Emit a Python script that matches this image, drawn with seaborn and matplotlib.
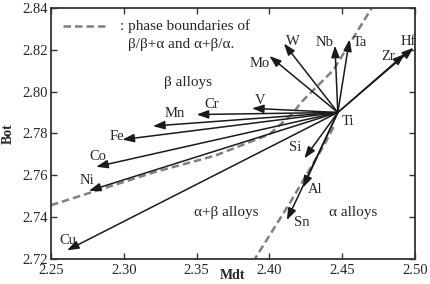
import matplotlib
matplotlib.use("Agg")
import matplotlib.pyplot as plt
import pandas as pd
import seaborn as sns

# vectores desde Ti hacia cada elemento de aleacion
ti_mdt, ti_bot = 2.447, 2.790
elements = ["Hf", "Zr", "Ta", "Nb", "W", "Mo", "V", "Cr", "Mn",
            "Fe", "Co", "Ni", "Cu", "Si", "Al", "Sn"]
mdt = [2.499, 2.493, 2.455, 2.445, 2.410, 2.400, 2.388, 2.350, 2.320,
       2.299, 2.281, 2.276, 2.261, 2.424, 2.423, 2.412]
bot = [2.821, 2.818, 2.825, 2.822, 2.823, 2.817, 2.792, 2.789, 2.7835,
       2.777, 2.764, 2.7525, 2.724, 2.768, 2.754, 2.7385]
label_mdt = [2.4954, 2.4817, 2.4622, 2.4382, 2.4164, 2.3935, 2.3935, 2.3604, 2.3352,
             2.2951, 2.2825, 2.2745, 2.2619, 2.4176, 2.4313, 2.4222]
label_bot = [2.8239, 2.8170, 2.8236, 2.8234, 2.8239, 2.8135, 2.7955, 2.7940, 2.7896,
             2.7784, 2.7688, 2.7573, 2.7286, 2.7733, 2.7532, 2.7372]

# fronteras de fase
upper_mdt = [2.250, 2.3214, 2.3626, 2.4000, 2.4162, 2.4222, 2.4382, 2.4439, 2.4703]
upper_bot = [2.7456, 2.7615, 2.7693, 2.7795, 2.7897, 2.7951, 2.8063, 2.8103, 2.8400]
lower_mdt = [2.444, 2.4382, 2.4153, 2.3901]
lower_bot = [2.783, 2.7752, 2.7481, 2.7200]

sns.set_theme(style="ticks")
plt.rcParams["font.family"] = ["Liberation Serif", "DejaVu Serif"]

fig = plt.figure(figsize=(4.3, 2.84), dpi=100)
ax = fig.add_axes([0.1186, 0.0891, 0.8465, 0.8827])

gris = "#808080"
dash = (3, 1.6)
df_up = pd.DataFrame({"x": upper_mdt, "y": upper_bot})
df_lo = pd.DataFrame({"x": lower_mdt, "y": lower_bot})
sns.lineplot(data=df_up, x="x", y="y", sort=False, ax=ax, color=gris,
             lw=1.8, zorder=1).lines[-1].set_dashes(dash)
sns.lineplot(data=df_lo, x="x", y="y", sort=False, ax=ax, color=gris,
             lw=1.8, zorder=1).lines[-1].set_dashes(dash)

for el, x, y, lx, ly in zip(elements, mdt, bot, label_mdt, label_bot):
    ax.annotate("", xy=(x, y), xytext=(ti_mdt, ti_bot),
                arrowprops=dict(arrowstyle="-|>,head_length=0.7,head_width=0.25",
                                color="#1a1a1a", lw=1.1, shrinkA=0, shrinkB=0,
                                mutation_scale=10), zorder=3)
    ax.text(lx, ly, el, fontsize=10.5, ha="center", va="center", zorder=4)

ax.text(2.4538, 2.7856, "Ti", fontsize=10.5, ha="center", va="center")

# regiones
ax.text(2.3443, 2.8043, "β alloys", fontsize=11, ha="center", va="center")
ax.text(2.3706, 2.7419, "α+β alloys", fontsize=11, ha="center", va="center")
ax.text(2.4576, 2.7419, "α alloys", fontsize=11, ha="center", va="center")

# leyenda
ax.plot([2.2585, 2.2894], [2.8314, 2.8314], color=gris, lw=1.8, dashes=dash)
ax.text(2.2975, 2.8314, ": phase boundaries of", fontsize=11, ha="left", va="center")
ax.text(2.3027, 2.8225, "β/β+α and α+β/α.", fontsize=11, ha="left", va="center")

ax.set_xlim(2.25, 2.50)
ax.set_ylim(2.72, 2.84)
ax.set_xticks([2.25, 2.30, 2.35, 2.40, 2.45, 2.50])
ax.set_yticks([2.72, 2.74, 2.76, 2.78, 2.80, 2.82, 2.84])
ax.set_xticklabels(["2.25", "2.30", "2.35", "2.40", "2.45", "2.50"])
ax.set_yticklabels(["2.72", "2.74", "2.76", "2.78", "2.80", "2.82", "2.84"])
ax.tick_params(direction="in", top=True, right=True, labeltop=False, labelright=False,
               length=4, width=1, color="#333333", labelsize=10.5)
ax.tick_params(axis="x", pad=4)
ax.tick_params(axis="y", pad=2)
for s in ax.spines.values():
    s.set_color("#333333")
    s.set_linewidth(1.3)

ax.set_xlabel("Mdt", fontsize=10, fontweight="bold")
ax.xaxis.set_label_coords(0.5, -0.04)
ax.set_ylabel("Bot", fontsize=10, fontweight="bold")
ax.yaxis.set_label_coords(-0.1, 0.5)

fig.savefig("out.png", dpi=100)
